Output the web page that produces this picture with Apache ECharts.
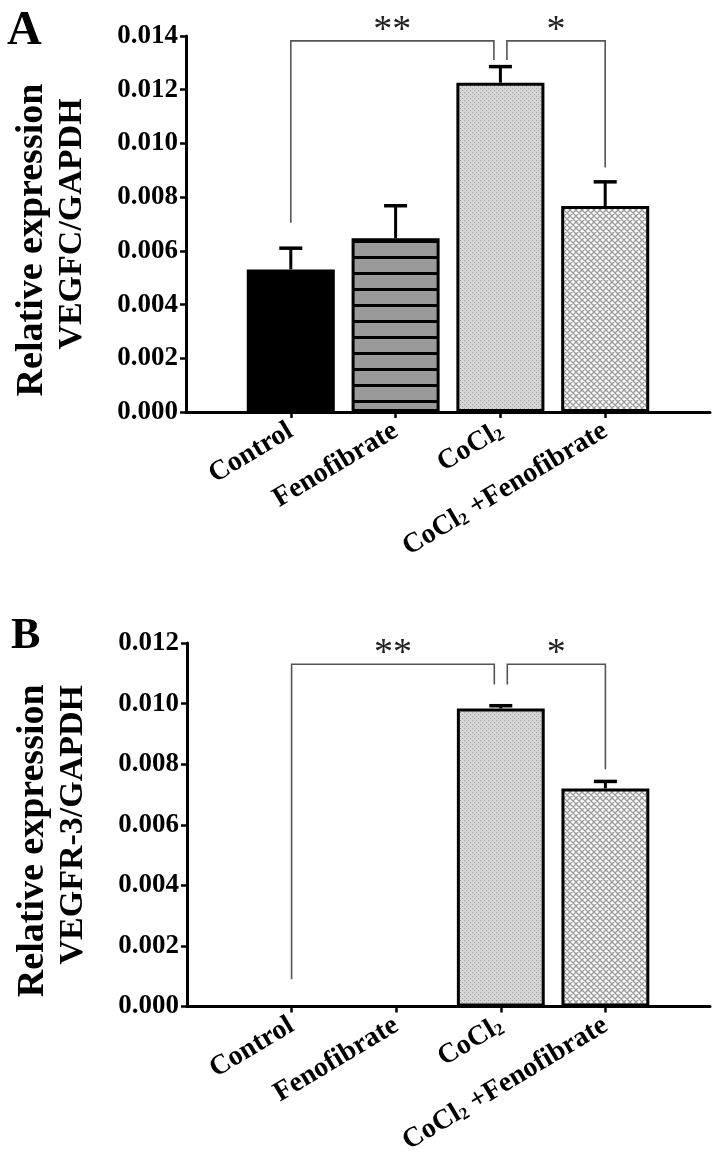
<!DOCTYPE html>
<html><head><meta charset="utf-8">
<script src="https://cdn.jsdelivr.net/npm/echarts@6/dist/echarts.min.js"></script>
<style>html,body{margin:0;padding:0;background:#fff}#c{width:720px;height:1160px}</style>
</head><body><div id="c"></div>
<script>
// ---------- data ----------
const categories = ['Control', 'Fenofibrate', 'CoCl2', 'CoCl2 +Fenofibrate'];
const vegfcMean = [0.00531, 0.00647, 0.01226, 0.00767];
const vegfcSem  = [0.00079, 0.00121, 0.00060, 0.00090];
const vegfr3Mean = [0, 0, 0.00984, 0.00720];
const vegfr3Sem  = [0, 0, 0.00009, 0.00023];
const yTicksA = [0.000, 0.002, 0.004, 0.006, 0.008, 0.010, 0.012, 0.014];
const yTicksB = [0.000, 0.002, 0.004, 0.006, 0.008, 0.010, 0.012];
// [from, to, label, top, fromBottom, toBottom]
const bracketsA = [
  ['Control', 'CoCl2', '**', 0.01382, 0.00705, 0.01311],
  ['CoCl2', 'CoCl2 +Fenofibrate', '*', 0.01382, 0.01311, 0.00910]
];
const bracketsB = [
  ['Control', 'CoCl2', '**', 0.01130, 0.00090, 0.01063],
  ['CoCl2', 'CoCl2 +Fenofibrate', '*', 0.01130, 0.01063, 0.00783]
];
const titleA = ['Relative expression', 'VEGFC/GAPDH'];
const titleB = ['Relative expression', 'VEGFR-3/GAPDH'];

// ---------- styles ----------
const FF = '"Liberation Serif", "Times New Roman", serif';
function pattern(w, h, draw) {
  const c = document.createElement('canvas');
  c.width = w; c.height = h;
  draw(c.getContext('2d'));
  return { image: c, repeat: 'repeat' };
}
const fills = [
  '#000000',
  pattern(8, 16, g => { g.fillStyle = '#9a9a9a'; g.fillRect(0, 0, 8, 16); g.fillStyle = '#000'; g.fillRect(0, 0, 8, 3); }),
  pattern(4, 4, g => { g.fillStyle = '#d6d6d6'; g.fillRect(0, 0, 4, 4); g.fillStyle = '#9c9c9c'; g.fillRect(0, 0, 1, 1); g.fillRect(2, 2, 1, 1); }),
  pattern(6, 6, g => {
    g.fillStyle = '#fff'; g.fillRect(0, 0, 6, 6);
    g.strokeStyle = '#9a9a9a'; g.lineWidth = 1.3;
    g.beginPath(); g.moveTo(-1, -1); g.lineTo(7, 7); g.moveTo(7, -1); g.lineTo(-1, 7);
    g.moveTo(-1, 5); g.lineTo(1, 7); g.moveTo(5, -1); g.lineTo(7, 1);
    g.moveTo(5, 7); g.lineTo(7, 5); g.moveTo(-1, 1); g.lineTo(1, -1);
    g.stroke();
  })
];

const axisCats = [''].concat(categories, ['']);
const idxOf = name => axisCats.indexOf(name);

function barData(means) {
  return ['-'].concat(means.map((v, i) => ({ value: v, itemStyle: { color: fills[i] } })), ['-']);
}
function errData(means, sems) {
  return means.map((m, i) => [i + 1, m, sems[i]]);
}
function bracketData(br) {
  return br.map(b => [idxOf(b[0]), idxOf(b[1]), b[3], b[4], b[5]]);
}
function sharedIndex(br) {
  const cnt = {};
  br.forEach(b => { cnt[b[0]] = (cnt[b[0]] || 0) + 1; cnt[b[1]] = (cnt[b[1]] || 0) + 1; });
  const k = Object.keys(cnt).find(k => cnt[k] > 1);
  return k ? idxOf(k) : -1;
}

function errRender(params, api) {
  const x = api.value(0), m = api.value(1), s = api.value(2);
  if (!(s > 0)) return;
  const p0 = api.coord([x, m]);
  const p1 = api.coord([x, m + s]);
  const half = api.size([1, 0])[0] * 0.11;
  return {
    type: 'group', children: [
      { type: 'line', shape: { x1: p0[0], y1: p0[1], x2: p1[0], y2: p1[1] }, style: { stroke: '#000', lineWidth: 3 } },
      { type: 'line', shape: { x1: p1[0] - half, y1: p1[1], x2: p1[0] + half, y2: p1[1] }, style: { stroke: '#000', lineWidth: 3.5 } }
    ]
  };
}
function makeBracketRender(br) {
  const shared = sharedIndex(br);
  return function (params, api) {
    const f = api.value(0), t = api.value(1);
    const gap = 6.5;
    const top = api.coord([f, api.value(2)])[1];
    let xf = api.coord([f, 0])[0], xt = api.coord([t, 0])[0];
    if (f === shared) xf += gap;
    if (t === shared) xt -= gap;
    const yf = api.coord([f, api.value(3)])[1];
    const yt = api.coord([t, api.value(4)])[1];
    return {
      type: 'group', children: [
        { type: 'polyline', shape: { points: [[xf, yf], [xf, top], [xt, top], [xt, yt]] }, style: { stroke: '#555', lineWidth: 1.6, fill: null } },
        { type: 'text', x: (xf + xt) / 2, y: top - 10, style: { text: br[params.dataIndex][2], font: 'normal 38px ' + FF, align: 'center', verticalAlign: 'middle', fill: '#222' } }
      ]
    };
  };
}

function yAxis(grid, ticks, name) {
  return {
    gridIndex: grid, type: 'value',
    min: ticks[0], max: ticks[ticks.length - 1], interval: ticks[1] - ticks[0],
    axisLine: { show: true, lineStyle: { color: '#000', width: 3 } },
    axisTick: { show: true, length: 6, lineStyle: { color: '#000', width: 2.5 } },
    splitLine: { show: false },
    axisLabel: { color: '#000', fontFamily: FF, fontWeight: 'bold', fontSize: 27, margin: 8, formatter: v => v.toFixed(3) },
    name: '{a|' + name[0] + '}\n{b|' + name[1] + '}', nameLocation: 'middle', nameRotate: 90, nameGap: 94,
    nameTextStyle: {
      color: '#000', fontFamily: FF, fontWeight: 'bold', fontSize: 36, lineHeight: 40,
      rich: {
        a: { fontFamily: FF, fontWeight: 'bold', color: '#000', fontSize: 38, lineHeight: 40, padding: [0, 32, 0, 0] },
        b: { fontFamily: FF, fontWeight: 'bold', color: '#000', fontSize: 34, lineHeight: 40 }
      }
    }
  };
}
function xAxis(grid) {
  const show = (i, v) => v !== '';
  return {
    gridIndex: grid, type: 'category', data: axisCats, boundaryGap: false,
    axisLine: { lineStyle: { color: '#000', width: 3 } },
    axisTick: { show: true, length: 6, interval: show, lineStyle: { color: '#000', width: 2.5 } },
    axisLabel: {
      interval: show, rotate: 31, margin: 17, color: '#000', fontFamily: FF, fontWeight: 'bold', fontSize: 28,
      formatter: v => v.replace(/CoCl2/g, 'CoCl{s|2}'),
      rich: { s: { fontSize: 17, fontFamily: FF, fontWeight: 'bold', color: '#000', verticalAlign: 'bottom' } }
    }
  };
}

const chart = echarts.init(document.getElementById('c'), null, { renderer: 'canvas' });
chart.setOption({
  animation: false,
  backgroundColor: '#fff',
  title: [
    { text: 'A', left: 7, top: 8, padding: 0, textStyle: { fontFamily: FF, fontWeight: 'bold', fontSize: 48, color: '#000' } },
    { text: 'B', left: 11, top: 615, padding: 0, textStyle: { fontFamily: FF, fontWeight: 'bold', fontSize: 44, color: '#000' } }
  ],
  grid: [
    { left: 186, top: 36, width: 524, height: 376 },
    { left: 187, top: 643, width: 523, height: 363.5 }
  ],
  xAxis: [xAxis(0), xAxis(1)],
  yAxis: [yAxis(0, yTicksA, titleA), yAxis(1, yTicksB, titleB)],
  series: [
    { type: 'bar', xAxisIndex: 0, yAxisIndex: 0, barWidth: '84%', data: barData(vegfcMean), itemStyle: { borderColor: '#000', borderWidth: 3 } },
    { type: 'custom', xAxisIndex: 0, yAxisIndex: 0, renderItem: errRender, data: errData(vegfcMean, vegfcSem), z: 3 },
    { type: 'custom', xAxisIndex: 0, yAxisIndex: 0, renderItem: makeBracketRender(bracketsA), data: bracketData(bracketsA), z: 4 },
    { type: 'bar', xAxisIndex: 1, yAxisIndex: 1, barWidth: '84%', data: barData(vegfr3Mean), itemStyle: { borderColor: '#000', borderWidth: 3 } },
    { type: 'custom', xAxisIndex: 1, yAxisIndex: 1, renderItem: errRender, data: errData(vegfr3Mean, vegfr3Sem), z: 3 },
    { type: 'custom', xAxisIndex: 1, yAxisIndex: 1, renderItem: makeBracketRender(bracketsB), data: bracketData(bracketsB), z: 4 }
  ]
});
</script>
</body></html>
